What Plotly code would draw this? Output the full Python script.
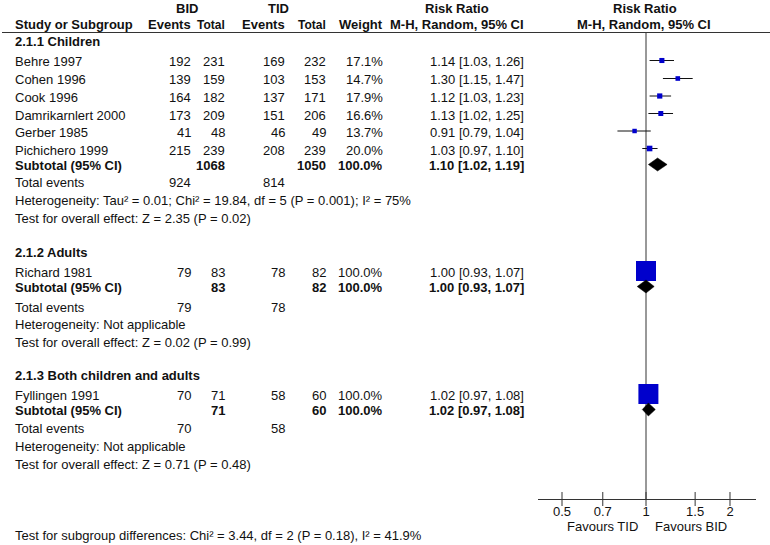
import plotly.graph_objects as go

W, H = 770, 545

# ---------------- data ----------------
studies = ["Behre 1997", "Cohen 1996", "Cook 1996", "Damrikarnlert 2000",
           "Gerber 1985", "Pichichero 1999", "Richard 1981", "Fyllingen 1991"]
study_group = [0, 0, 0, 0, 0, 0, 1, 2]
bid_events = [192, 139, 164, 173, 41, 215, 79, 70]
bid_total = [231, 159, 182, 209, 48, 239, 83, 71]
tid_events = [169, 103, 137, 151, 46, 208, 78, 58]
tid_total = [232, 153, 171, 206, 49, 239, 82, 60]
weight = [17.1, 14.7, 17.9, 16.6, 13.7, 20.0, 100.0, 100.0]
rr = [1.14, 1.30, 1.12, 1.13, 0.91, 1.03, 1.00, 1.02]
rr_lo = [1.03, 1.15, 1.03, 1.02, 0.79, 0.97, 0.93, 0.97]
rr_hi = [1.26, 1.47, 1.23, 1.25, 1.04, 1.10, 1.07, 1.08]

groups = ["2.1.1 Children", "2.1.2 Adults", "2.1.3 Both children and adults"]
sub_bid_total = [1068, 83, 71]
sub_tid_total = [1050, 82, 60]
sub_weight = [100.0, 100.0, 100.0]
sub_rr = [1.10, 1.00, 1.02]
sub_lo = [1.02, 0.93, 0.97]
sub_hi = [1.19, 1.07, 1.08]
sub_bid_events = [924, 79, 70]
sub_tid_events = [814, 78, 58]
heterogeneity = ["Heterogeneity: Tau\u00b2 = 0.01; Chi\u00b2 = 19.84, df = 5 (P = 0.001); I\u00b2 = 75%",
                 "Heterogeneity: Not applicable",
                 "Heterogeneity: Not applicable"]
overall_effect = ["Test for overall effect: Z = 2.35 (P = 0.02)",
                  "Test for overall effect: Z = 0.02 (P = 0.99)",
                  "Test for overall effect: Z = 0.71 (P = 0.48)"]
subgroup_diff = "Test for subgroup differences: Chi\u00b2 = 3.44, df = 2 (P = 0.18), I\u00b2 = 41.9%"

tick_vals = [0.5, 0.7, 1, 1.5, 2]
tick_text = ["0.5", "0.7", "1", "1.5", "2"]
favours_left = "Favours TID"
favours_right = "Favours BID"

# ---------------- layout (pixel rows) ----------------
study_y = [60.5, 78.5, 96, 113.5, 131, 148.5, 271, 394]
group_title_y = [41.5, 252.5, 375.5]
sub_y = [164.5, 286.5, 409.5]
tot_y = [182.5, 307, 428.5]
het_y = [200.5, 324.5, 446.5]
eff_y = [218, 342.5, 464.5]
diff_y = 535.5

FONT = "Liberation Sans, Arial, sans-serif"
FS = 13
TXT = "#111111"
BLUE = "#0000CC"
LINE = "#333333"

# column right edges (px)
C_LABEL = 13
C_BID_E, C_BID_T, C_TID_E, C_TID_T, C_W, C_RR = 193, 227, 287, 328, 385, 526

ann = []


def px(x):
    return x / W


def py(y):
    return 1 - y / H


def text(x, y, s, anchor="left", bold=False, shift=-1.5, size=FS):
    ann.append(dict(x=px(x), y=py(y), xref="paper", yref="paper", text=("<b>%s</b>" % s) if bold else s,
                    showarrow=False, xanchor=anchor, yanchor="middle", yshift=shift,
                    font=dict(family=FONT, size=size, color=TXT)))


# headers
text(187, 9, "BID", "center", True, 0)
text(278, 9, "TID", "center", True, 0)
text(457, 9, "Risk Ratio", "center", True, 0)
text(645, 9, "Risk Ratio", "center", True, 0)
text(C_LABEL, 25, "Study or Subgroup", "left", True, 0)
text(C_BID_E, 25, "Events", "right", True, 0)
text(C_BID_T, 25, "Total", "right", True, 0, 12)
text(C_TID_E, 25, "Events", "right", True, 0)
text(C_TID_T, 25, "Total", "right", True, 0, 12)
text(C_W, 25, "Weight", "right", True, 0)
text(C_RR, 25, "M-H, Random, 95% CI", "right", True, 0)
text(644, 25, "M-H, Random, 95% CI", "center", True, 0)

for i, s in enumerate(studies):
    y = study_y[i]
    text(C_LABEL, y, s)
    text(C_BID_E, y, str(bid_events[i]), "right")
    text(C_BID_T, y, str(bid_total[i]), "right")
    text(C_TID_E, y, str(tid_events[i]), "right")
    text(C_TID_T, y, str(tid_total[i]), "right")
    text(C_W, y, "%.1f%%" % weight[i], "right")
    text(C_RR, y, "%.2f [%.2f, %.2f]" % (rr[i], rr_lo[i], rr_hi[i]), "right")

for g, name in enumerate(groups):
    text(C_LABEL, group_title_y[g], name, "left", True, 0)
    text(C_LABEL, sub_y[g], "Subtotal (95% CI)", "left", True, -1)
    text(C_BID_T, sub_y[g], str(sub_bid_total[g]), "right", True, -1)
    text(C_TID_T, sub_y[g], str(sub_tid_total[g]), "right", True, -1)
    text(C_W, sub_y[g], "%.1f%%" % sub_weight[g], "right", True, -1)
    text(C_RR, sub_y[g], "%.2f [%.2f, %.2f]" % (sub_rr[g], sub_lo[g], sub_hi[g]), "right", True, -1)
    text(C_LABEL, tot_y[g], "Total events", shift=0)
    text(C_BID_E, tot_y[g], str(sub_bid_events[g]), "right", shift=0)
    text(C_TID_E, tot_y[g], str(sub_tid_events[g]), "right", shift=0)
    text(C_LABEL, het_y[g], heterogeneity[g], shift=0)
    text(C_LABEL, eff_y[g], overall_effect[g], shift=0)

text(C_LABEL, diff_y, subgroup_diff, shift=0)
text(640, 526, favours_left, "right", shift=0)
text(653, 526, favours_right, "left", shift=0)

fig = go.Figure()

# CI lines
ci_x, ci_y = [], []
for i in range(len(studies)):
    ci_x += [rr_lo[i], rr_hi[i], None]
    ci_y += [study_y[i], study_y[i], None]
fig.add_trace(go.Scatter(x=ci_x, y=ci_y, mode="lines", line=dict(color="#111111", width=1),
                         hoverinfo="skip", showlegend=False))

# study squares
fig.add_trace(go.Scatter(x=rr, y=study_y, mode="markers", opacity=1,
                         marker=dict(symbol="square", color=BLUE, opacity=1, line=dict(width=0),
                                     size=[2 + 0.18 * w for w in weight]),
                         hoverinfo="skip", showlegend=False))

# subtotal diamonds
DH = 6.5
for g in range(len(groups)):
    yy = sub_y[g]
    fig.add_trace(go.Scatter(x=[sub_lo[g], sub_rr[g], sub_hi[g], sub_rr[g], sub_lo[g]],
                             y=[yy, yy - DH, yy, yy + DH, yy], mode="lines", fill="toself",
                             fillcolor="#000000", line=dict(color="#000000", width=0.5),
                             hoverinfo="skip", showlegend=False))

# tick marks crossing axis
fig.add_trace(go.Scatter(x=tick_vals, y=[499] * len(tick_vals), mode="markers",
                         marker=dict(symbol="line-ns-open", size=10, color=LINE,
                                     line=dict(color=LINE, width=1)),
                         hoverinfo="skip", showlegend=False, cliponaxis=False))

L, R = 538, 756
x0 = (L - 646) / 279.0
x1 = (R - 646) / 279.0

fig.update_layout(
    width=W, height=H, margin=dict(l=0, r=0, t=0, b=0),
    paper_bgcolor="white", plot_bgcolor="white",
    annotations=ann,
    xaxis=dict(type="log", range=[x0, x1], domain=[L / W, R / W], showgrid=False, zeroline=False,
               showline=True, linecolor=LINE, linewidth=1, tickvals=tick_vals, ticktext=tick_text,
               ticks="", tickfont=dict(family=FONT, size=FS, color=TXT), ticklabelstandoff=0),
    yaxis=dict(range=[499, 0], domain=[46 / H, 1], visible=False, showgrid=False, zeroline=False),
    shapes=[
        dict(type="line", xref="x", yref="y", x0=1, x1=1, y0=33, y1=499, layer="below",
             line=dict(color=LINE, width=1)),
        dict(type="line", xref="paper", yref="paper", x0=2 / W, x1=1, y0=py(32.5), y1=py(32.5),
             line=dict(color=LINE, width=1)),
    ],
)

fig.write_html("out.html", config={"displayModeBar": False},
               post_script="document.body.style.margin='0px';document.body.style.overflow='hidden';")
